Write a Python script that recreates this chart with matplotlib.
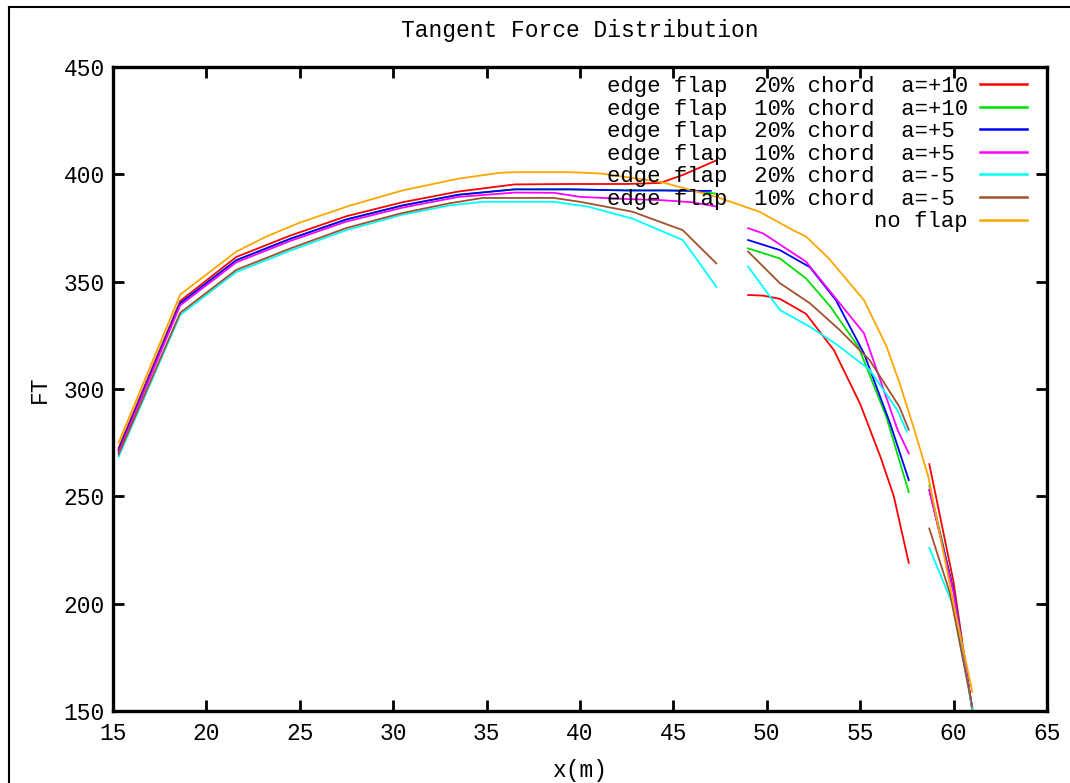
import matplotlib
matplotlib.use("Agg")
import matplotlib.pyplot as plt
import numpy as np
from matplotlib.lines import Line2D

nan = np.nan

# blade span positions (m) and tangent force, three blade regions split by nan
x_red = [15.3, 18.6, 21.6, 24.5, 27.5, 30.5, 33.5, 36.5, 39.5, 42.5, 44.3, 45.5, 47.3,
         nan, 49.0, 49.8, 50.7, 52.1, 53.6, 55.0, 56.1, 56.8, 57.6,
         nan, 58.7, 60.0, 61.0]
ft_red = [272.5, 341, 361.5, 371.5, 380.5, 387, 392, 395.3, 395.5, 395.5, 396, 399.7, 406.5,
          nan, 343.8, 343.5, 342, 335, 318, 293, 268, 250, 219,
          nan, 265, 210, 150]

x_green = [15.3, 18.6, 21.6, 24.5, 27.5, 30.5, 33.5, 36.5, 39.5, 42.5, 44.5, 46.0, 47.3,
           nan, 49.0, 50.7, 52.1, 53.4, 54.9, 56.4, 57.6,
           nan, 58.7, 60.0, 61.0]
ft_green = [271.5, 340, 360, 370, 379, 385.5, 390.5, 393, 393, 392.5, 392.5, 392.3, 391,
            nan, 365.5, 360.8, 351.5, 338.4, 319.7, 287, 252,
            nan, 255, 206, 151]

x_blue = [15.3, 18.6, 21.6, 24.5, 27.5, 30.5, 33.5, 36.5, 39.5, 42.5, 44.5, 46.0, 47.0,
          nan, 49.0, 50.7, 52.3, 53.7, 55.2, 56.6, 57.6,
          nan, 58.7, 60.0, 61.0]
ft_blue = [271.5, 340, 360, 370, 379, 385.5, 390.5, 393, 393, 392.5, 392.5, 392.3, 392.3,
           nan, 369.4, 364.7, 356.8, 341.4, 316.6, 284, 257.6,
           nan, 253, 206, 151]

x_magenta = [15.3, 18.6, 21.6, 24.5, 27.5, 30.5, 33.5, 36.5, 38.6, 40.0, 42.5, 44.3, 46.0, 47.3,
             nan, 49.0, 49.8, 52.1, 53.9, 55.2, 57.0, 57.6,
             nan, 58.7, 60.0, 61.0]
ft_magenta = [270.5, 339, 359, 369, 378, 384.5, 389.5, 391.5, 391.4, 389.5, 388.5, 388, 387, 385,
              nan, 374.9, 372.5, 359.3, 340, 326, 281, 270,
              nan, 253, 205, 151]

x_cyan = [15.3, 18.6, 21.6, 24.5, 27.5, 30.4, 33.0, 34.8, 38.6, 40.4, 42.8, 45.5, 46.4, 47.3,
          nan, 49.0, 50.7, 52.3, 53.7, 55.5, 57.0, 57.5,
          nan, 58.7, 60.0, 61.0]
ft_cyan = [268.5, 334.5, 354.5, 364.5, 374, 381, 385.5, 387.2, 387.2, 385, 379.4, 369.4, 358.6, 347.6,
           nan, 357, 336.8, 329, 321, 309, 290, 280,
           nan, 226, 198.6, 151]

x_brown = [15.3, 18.6, 21.6, 24.5, 27.5, 30.4, 33.0, 34.8, 38.6, 40.0, 42.8, 45.5, 47.3,
           nan, 49.0, 50.7, 52.3, 53.9, 55.5, 57.1, 57.6,
           nan, 58.7, 59.8, 61.0]
ft_brown = [269.5, 335.5, 355.5, 365.5, 375, 381.8, 386.5, 389, 389, 387.2, 382.6, 374, 358.5,
            nan, 364, 349.3, 340, 327.5, 313.5, 291.7, 281,
            nan, 235, 205, 152]

x_noflap = [15.3, 18.6, 21.6, 23.2, 25.0, 27.7, 30.5, 33.5, 35.7, 36.5, 39.5, 41.1, 44.3, 47.3,
            49.6, 51.4, 52.1, 53.3, 55.2, 56.4, 57.1, 57.9, 58.65, 60.0, 61.0]
ft_noflap = [275, 344, 364, 371, 377.5, 385.5, 392.5, 398, 400.7, 401, 401, 400.4, 396.5, 389.5,
             382.6, 374, 371, 361, 341.4, 320, 303, 281, 259, 200, 159]

series = [
    (x_red, ft_red, "#ff0000", "edge flap  20% chord  a=+10"),
    (x_green, ft_green, "#00e000", "edge flap  10% chord  a=+10"),
    (x_blue, ft_blue, "#0000ff", "edge flap  20% chord  a=+5"),
    (x_magenta, ft_magenta, "#ff00ff", "edge flap  10% chord  a=+5"),
    (x_cyan, ft_cyan, "#00ffff", "edge flap  20% chord  a=-5"),
    (x_brown, ft_brown, "#a0522d", "edge flap  10% chord  a=-5"),
    (x_noflap, ft_noflap, "#ffa500", "no flap"),
]

plt.rcParams["font.family"] = ["Liberation Mono", "DejaVu Sans Mono"]
plt.rcParams["font.size"] = 16.5

fig = plt.figure(figsize=(10.7, 7.83), dpi=100)
ax = fig.add_axes([113 / 1070, 1 - 711 / 783, 934 / 1070, 644 / 783])

width = max(len(s[3]) for s in series)
for xs, ys, col, lab in series:
    # key column is right aligned; pad flap labels so they start at the same place
    if lab.startswith("edge"):
        lab = lab.ljust(width)
    ax.plot(xs, ys, color=col, lw=1.3, label=lab)

ax.set_xlim(15, 65)
ax.set_ylim(150, 450)
ax.set_xticks(np.arange(15, 66, 5))
ax.set_yticks(np.arange(150, 451, 50))
ax.tick_params(direction="in", length=8, width=2, top=True, right=True, pad=6)
ax.tick_params(axis="x", pad=8)
for sp in ax.spines.values():
    sp.set_linewidth(2.4)

ax.set_xlabel("x(m)", labelpad=10)
ax.set_ylabel("FT", labelpad=9)
fig.text(580 / 1070, 1 - 30 / 783, "Tangent Force Distribution", ha="center", va="center")

leg = ax.legend(loc="upper right", markerfirst=False, frameon=False, fontsize=16,
                handlelength=2.12, handletextpad=0.54, labelspacing=0.07,
                borderpad=0.0, borderaxespad=0.0,
                bbox_to_anchor=(1 - 20 / 934, 1 - 9 / 644))
for line in leg.get_lines():
    line.set_linewidth(1.8)

# outer frame of the window
fig.add_artist(Line2D([9 / 1070, 9 / 1070], [0, 1 - 7 / 783], color="black", lw=1.5))
fig.add_artist(Line2D([9 / 1070, 1], [1 - 7 / 783, 1 - 7 / 783], color="black", lw=1.5))

fig.savefig("out.png", dpi=100)
